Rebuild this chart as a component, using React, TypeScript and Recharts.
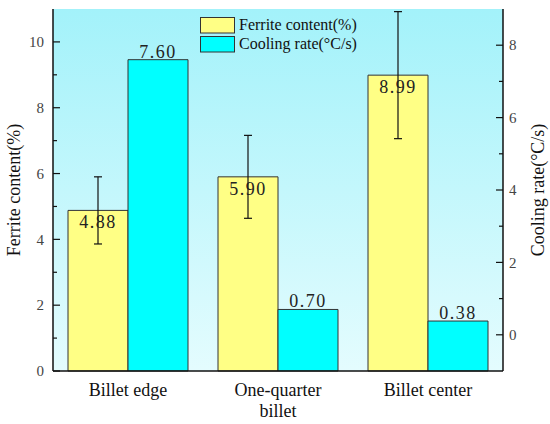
import React from "react";
import {
  ComposedChart,
  Bar,
  XAxis,
  YAxis,
  CartesianGrid,
  ErrorBar,
  LabelList,
  Label,
  Text,
} from "recharts";

const categories = ["Billet edge", "One-quarter billet", "Billet center"];
const ferrite = [4.88, 5.9, 8.99];
const ferriteErr = [1.02, 1.26, 1.93];
const coolingRate = [7.6, 0.7, 0.38];

const leftTicks = [0, 1, 2, 3, 4, 5, 6, 7, 8, 9, 10];
const rightTicks = [0, 1, 2, 3, 4, 5, 6, 7, 8];
const LEFT_DOMAIN = [0, 11];
const RIGHT_DOMAIN = [-1, 9];

const FONT = "Liberation Serif";
const YELLOW = "#ffff85";
const CYAN = "#00ffff";

// cooling bars sit on the bottom of the right axis (-1), like the original
const data = categories.map((name, i) => ({
  name,
  ferrite: ferrite[i],
  ferriteErr: ferriteErr[i],
  cooling: coolingRate[i],
  coolingBar: [RIGHT_DOMAIN[0], coolingRate[i]],
}));

const tickStyle = { fontFamily: FONT, fontSize: 15 };

// tick with an inward tick mark, minor ticks (odd values) have no label
function LeftTick(props: any) {
  const { x, y, payload } = props;
  const major = payload.value % 2 === 0;
  const ax = x + 9;
  return (
    <g>
      <line x1={ax} x2={ax + (major ? 7 : 4)} y1={y} y2={y} stroke="#111" strokeWidth={1.2} />
      {major && (
        <text x={x} y={y} dy="0.35em" textAnchor="end" fill="#444" style={tickStyle}>
          {payload.value}
        </text>
      )}
    </g>
  );
}

function RightTick(props: any) {
  const { x, y, payload } = props;
  const major = payload.value % 2 === 0;
  const ax = x - 6;
  return (
    <g>
      <line x1={ax} x2={ax - (major ? 7 : 4)} y1={y} y2={y} stroke="#111" strokeWidth={1.2} />
      {major && (
        <text x={x} y={y} dy="0.35em" textAnchor="start" fill="#444" style={tickStyle}>
          {payload.value}
        </text>
      )}
    </g>
  );
}

function CategoryTick(props: any) {
  const { x, y, payload } = props;
  return (
    <Text
      x={x}
      y={y}
      width={100}
      verticalAnchor="start"
      textAnchor="middle"
      lineHeight={21}
      fill="#111"
      style={{ fontFamily: FONT, fontSize: 18 }}
    >
      {payload.value}
    </Text>
  );
}

function LegendBox() {
  const rows = [
    { color: YELLOW, text: "Ferrite content(%)" },
    { color: CYAN, text: "Cooling rate(°C/s)" },
  ];
  return (
    <svg
      width={170}
      height={40}
      style={{ position: "absolute", left: 200, top: 17, display: "block" }}
    >
      {rows.map((r, i) => (
        <g key={r.text}>
          <rect x={0.5} y={0.5 + i * 19} width={34} height={15.5} fill={r.color} stroke="#333" strokeWidth={1} />
          <text x={39} y={13 + i * 19} fill="#111" style={{ fontFamily: FONT, fontSize: 16 }}>
            {r.text}
          </text>
        </g>
      ))}
    </svg>
  );
}

const fmt = (v: any) => Number(v).toFixed(2);
const valueStyle = { fontSize: 18, fill: "#222", fontFamily: FONT, letterSpacing: 1.5 };
const axisTitle = { textAnchor: "middle", fontSize: 18, fill: "#111", fontFamily: FONT } as any;

export default function App() {
  return (
    <div style={{ position: "relative", width: 550, height: 424, background: "#fff", fontFamily: FONT }}>
      <style>{"body{margin:0}"}</style>
      <ComposedChart
        width={550}
        height={424}
        data={data}
        margin={{ top: 9, right: 0, bottom: 0, left: 0 }}
        barCategoryGap="10%"
        barGap={0}
      >
        <defs>
          <linearGradient id="plotBg" x1="0" y1="0" x2="0" y2="1">
            <stop offset="0%" stopColor="#a3f2fa" />
            <stop offset="100%" stopColor="#e4fcfe" />
          </linearGradient>
        </defs>
        <CartesianGrid fill="url(#plotBg)" horizontal={false} vertical={false} />
        <XAxis
          dataKey="name"
          height={53}
          tickSize={0}
          tickMargin={12}
          tick={<CategoryTick />}
          axisLine={{ stroke: "#111", strokeWidth: 1.5 }}
          tickLine={false}
          interval={0}
        />
        <XAxis
          xAxisId="top"
          orientation="top"
          dataKey="name"
          height={0}
          tick={false}
          tickLine={false}
          axisLine={{ stroke: "#111", strokeWidth: 1.5 }}
        />
        <YAxis
          yAxisId="left"
          width={53}
          domain={LEFT_DOMAIN}
          ticks={leftTicks}
          interval={0}
          tickSize={0}
          tickMargin={9}
          tick={<LeftTick />}
          tickLine={false}
          axisLine={{ stroke: "#111", strokeWidth: 1.5 }}
        >
          <Label value="Ferrite content(%)" angle={-90} position="insideLeft" offset={14} style={axisTitle} />
        </YAxis>
        <YAxis
          yAxisId="right"
          orientation="right"
          width={47}
          domain={RIGHT_DOMAIN}
          ticks={rightTicks}
          interval={0}
          tickSize={0}
          tickMargin={6}
          tick={<RightTick />}
          tickLine={false}
          axisLine={{ stroke: "#111", strokeWidth: 1.5 }}
        >
          <Label value="Cooling rate(°C/s)" angle={-90} position="insideRight" offset={12} style={axisTitle} />
        </YAxis>
        <Bar
          yAxisId="left"
          dataKey="ferrite"
          name="Ferrite content(%)"
          fill={YELLOW}
          stroke="#333"
          strokeWidth={1}
          isAnimationActive={false}
        >
          <LabelList dataKey="ferrite" position="insideTop" offset={5} formatter={fmt} style={valueStyle} />
          <ErrorBar dataKey="ferriteErr" direction="y" width={4} stroke="#111" strokeWidth={1.2} isAnimationActive={false} />
        </Bar>
        <Bar
          yAxisId="right"
          dataKey="coolingBar"
          name="Cooling rate(°C/s)"
          fill={CYAN}
          stroke="#333"
          strokeWidth={1}
          isAnimationActive={false}
        >
          <LabelList dataKey="cooling" position="top" offset={2} formatter={fmt} style={valueStyle} />
        </Bar>
      </ComposedChart>
      <LegendBox />
    </div>
  );
}
